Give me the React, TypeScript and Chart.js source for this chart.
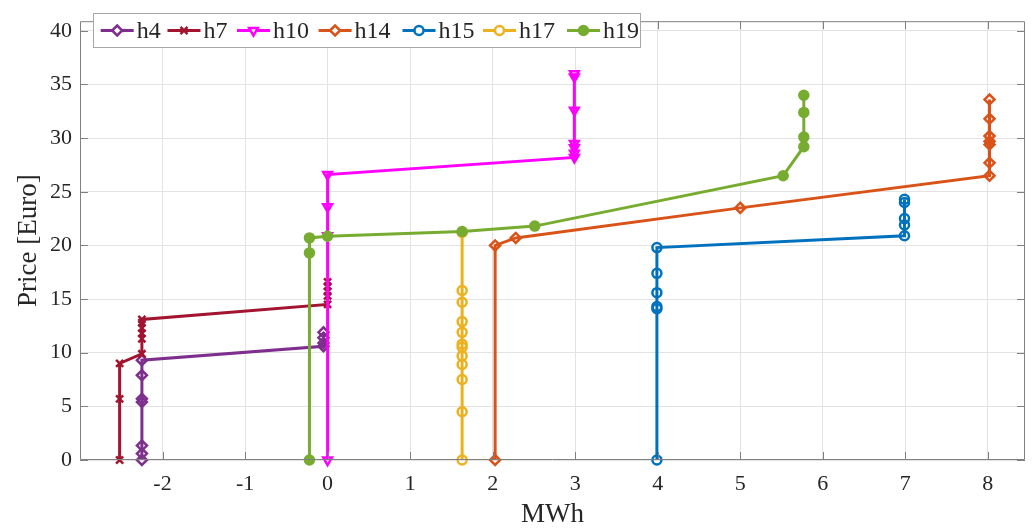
import { useEffect, useRef } from 'react';
import { Chart, registerables } from 'chart.js';
import { drawPoint } from 'chart.js/helpers';

Chart.register(...registerables);

// ---------- data ----------
const seriesNames = ['h4', 'h7', 'h10', 'h14', 'h15', 'h17', 'h19'];

const h4X = [-2.25, -2.25, -2.25, -2.25, -2.25, -2.25, -2.25, -0.05, -0.05, -0.05, -0.05];
const h4Y = [0, 0.6, 1.35, 5.4, 5.7, 7.9, 9.3, 10.6, 10.9, 11.4, 11.9];

const h7X = [-2.52, -2.52, -2.52, -2.25, -2.25, -2.25, -2.25, -2.25, -2.25, 0, 0, 0, 0, 0];
const h7Y = [0, 5.7, 9.0, 9.9, 11.3, 11.8, 12.3, 12.8, 13.1, 14.5, 15.3, 15.7, 16.2, 16.6];

const h10X = [0, 0, 0, 0, 2.99, 2.99, 2.99, 2.99, 2.99, 2.99, 2.99];
const h10Y = [0, 20.9, 23.6, 26.6, 28.2, 28.6, 29.1, 29.5, 32.6, 35.7, 36.0];

const h14X = [2.03, 2.03, 2.28, 5.0, 8.02, 8.02, 8.02, 8.02, 8.02, 8.02, 8.02];
const h14Y = [0, 20.0, 20.7, 23.5, 26.5, 27.7, 29.4, 29.7, 30.2, 31.8, 33.6];

const h15X = [3.99, 3.99, 3.99, 3.99, 3.99, 3.99, 6.99, 6.99, 6.99, 6.99, 6.99];
const h15Y = [0, 14.1, 14.3, 15.6, 17.4, 19.8, 20.9, 21.9, 22.5, 24.0, 24.3];

const h17X = [1.63, 1.63, 1.63, 1.63, 1.63, 1.63, 1.63, 1.63, 1.63, 1.63, 1.63, 1.63];
const h17Y = [0, 4.5, 7.5, 8.9, 9.7, 10.5, 10.8, 11.9, 12.9, 14.7, 15.8, 21.2];

const h19X = [-0.22, -0.22, -0.22, 0, 1.63, 2.51, 5.52, 5.77, 5.77, 5.77, 5.77];
const h19Y = [0, 19.3, 20.7, 20.85, 21.3, 21.8, 26.5, 29.2, 30.1, 32.4, 34.0];

const seriesX = [h4X, h7X, h10X, h14X, h15X, h17X, h19X];
const seriesY = [h4Y, h7Y, h10Y, h14Y, h15Y, h17Y, h19Y];

const xTickValues = [-2, -1, 0, 1, 2, 3, 4, 5, 6, 7, 8];
const yTickValues = [0, 5, 10, 15, 20, 25, 30, 35, 40];

// ---------- styles ----------
const seriesColors = ['#7E2F8E', '#A2142F', '#FF00FF', '#D95319', '#0072BD', '#EDB120', '#77AC30'];
const seriesPointStyles = ['rectRot', 'crossRot', 'triangle', 'rectRot', 'circle', 'circle', 'circle'];
const seriesRotation = [0, 0, 180, 0, 0, 0, 0];
const seriesRadius = [5, 5, 5, 5, 4.5, 4.5, 4.5];
const seriesFilled = [false, false, false, false, false, false, true];

const FONT = "'Liberation Serif', 'DejaVu Serif', serif";
const TEXT = '#262626';
const AXIS = '#808080';
const GRID = '#e3e3e3';

const legendLineStarts = [100.7, 167.5, 237, 318.6, 402.5, 483, 567];

const framePlugin = {
  id: 'matlabFrame',
  afterDraw(chart: any) {
    const { ctx, chartArea } = chart;
    const { left, right, top, bottom } = chartArea;
    const xs = chart.scales.x;
    const ys = chart.scales.y;
    ctx.save();
    ctx.strokeStyle = AXIS;
    ctx.lineWidth = 1;
    ctx.beginPath();
    ctx.rect(left + 0.5, top + 0.5, right - left - 1, bottom - top - 1);
    ctx.stroke();
    const tl = 8;
    ctx.beginPath();
    xTickValues.forEach((v) => {
      const px = Math.round(xs.getPixelForValue(v)) + 0.5;
      ctx.moveTo(px, bottom);
      ctx.lineTo(px, bottom - tl);
      ctx.moveTo(px, top);
      ctx.lineTo(px, top + tl);
    });
    yTickValues.forEach((v) => {
      const py = Math.round(ys.getPixelForValue(v)) + 0.5;
      ctx.moveTo(left, py);
      ctx.lineTo(left + tl, py);
      ctx.moveTo(right, py);
      ctx.lineTo(right - tl, py);
    });
    ctx.stroke();

    // legend
    const bx = 93.5, by = 13.5, bw = 547, bh = 34;
    ctx.fillStyle = '#ffffff';
    ctx.fillRect(bx, by, bw, bh);
    ctx.strokeStyle = '#a6a6a6';
    ctx.lineWidth = 1;
    ctx.strokeRect(bx, by, bw, bh);
    const cy = by + bh / 2;
    ctx.font = `24px ${FONT}`;
    ctx.textBaseline = 'middle';
    ctx.textAlign = 'left';
    seriesNames.forEach((name, i) => {
      const x0 = legendLineStarts[i];
      const len = 33;
      ctx.strokeStyle = seriesColors[i];
      ctx.lineWidth = 3;
      ctx.beginPath();
      ctx.moveTo(x0, cy);
      ctx.lineTo(x0 + len, cy);
      ctx.stroke();
      ctx.fillStyle = seriesFilled[i] ? seriesColors[i] : '#ffffff';
      ctx.strokeStyle = seriesColors[i];
      ctx.lineWidth = 2.5;
      drawPoint(ctx, {
        pointStyle: seriesPointStyles[i],
        radius: seriesRadius[i],
        rotation: seriesRotation[i],
        borderWidth: 2.5,
      } as any, x0 + len / 2, cy);
      ctx.fillStyle = TEXT;
      ctx.fillText(name, x0 + len + 3, cy + 1);
    });
    ctx.restore();
  },
};

export default function App() {
  const canvasRef = useRef<HTMLCanvasElement | null>(null);

  useEffect(() => {
    document.body.style.margin = '0';
    const canvas = canvasRef.current;
    if (!canvas) return;

    const datasets = seriesNames.map((name, i) => ({
      label: name,
      data: seriesX[i].map((x, j) => ({ x, y: seriesY[i][j] })),
      showLine: true,
      borderColor: seriesColors[i],
      borderWidth: 3,
      backgroundColor: seriesFilled[i] ? seriesColors[i] : 'rgba(0,0,0,0)',
      pointBorderColor: seriesColors[i],
      pointBackgroundColor: seriesFilled[i] ? seriesColors[i] : 'rgba(0,0,0,0)',
      pointStyle: seriesPointStyles[i],
      pointRotation: seriesRotation[i],
      pointRadius: seriesRadius[i],
      pointBorderWidth: 2.5,
      tension: 0,
      clip: false as any,
      order: seriesNames.length - i,
    }));

    const chart = new Chart(canvas, {
      type: 'scatter',
      data: { datasets },
      options: {
        animation: false,
        responsive: false,
        maintainAspectRatio: false,
        devicePixelRatio: 1,
        layout: { padding: { left: 0, top: 6, right: 8, bottom: 0 } },
        plugins: {
          legend: { display: false },
          tooltip: { enabled: false },
        },
        scales: {
          x: {
            type: 'linear',
            min: -3,
            max: 8.45,
            afterBuildTicks: (scale: any) => {
              scale.ticks = xTickValues.map((v) => ({ value: v }));
            },
            afterFit: (scale: any) => {
              scale.height = 71;
            },
            grid: { color: GRID, lineWidth: 1, drawTicks: false },
            border: { display: false },
            ticks: {
              font: { family: FONT, size: 22 },
              color: TEXT,
              padding: 11,
              maxRotation: 0,
              autoSkip: false,
            },
            title: {
              display: true,
              text: 'MWh',
              font: { family: FONT, size: 27 },
              color: TEXT,
              padding: { top: 0, bottom: 0 },
            },
          },
          y: {
            type: 'linear',
            min: 0,
            max: 40.9,
            afterBuildTicks: (scale: any) => {
              scale.ticks = yTickValues.map((v) => ({ value: v }));
            },
            afterFit: (scale: any) => {
              scale.width = 80;
            },
            grid: { color: GRID, lineWidth: 1, drawTicks: false },
            border: { display: false },
            ticks: {
              font: { family: FONT, size: 22 },
              color: TEXT,
              padding: 8,
              autoSkip: false,
            },
            title: {
              display: true,
              text: 'Price [Euro]',
              font: { family: FONT, size: 27 },
              color: TEXT,
              padding: { top: 13, bottom: 0 },
            },
          },
        },
      },
      plugins: [framePlugin],
    });

    return () => {
      chart.destroy();
    };
  }, []);

  return (
    <div style={{ position: 'absolute', left: 0, top: 0, width: 1033, height: 531, background: '#ffffff' }}>
      <canvas ref={canvasRef} width={1033} height={531} style={{ display: 'block', width: 1033, height: 531 }} />
    </div>
  );
}
